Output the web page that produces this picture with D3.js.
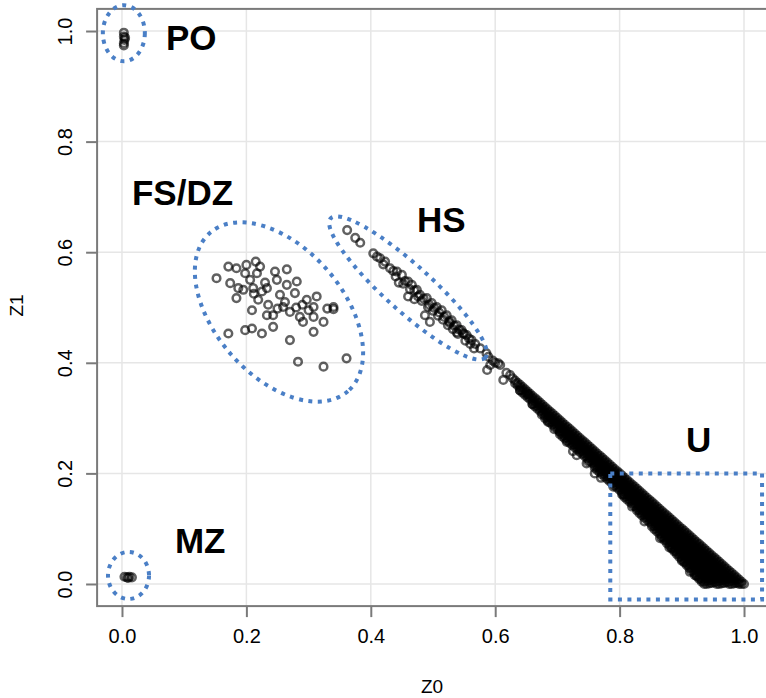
<!DOCTYPE html>
<html><head><meta charset="utf-8">
<script src="https://cdn.jsdelivr.net/npm/d3@7"></script>
<style>body{margin:0;background:#fff;} svg{display:block;}</style>
</head><body><svg id="c" width="766" height="698"></svg>
<script>
// ---------- data ----------
const xTicks = [0, 0.2, 0.4, 0.6, 0.8, 1.0];
const yTicks = [0, 0.2, 0.4, 0.6, 0.8, 1.0];
const xLabel = "Z0";
const yLabel = "Z1";

const poPoints = [[0.003,0.997],[0.003,0.990],[0.004,0.984],[0.003,0.978],[0.003,0.974],[0.005,0.988]];
const mzPoints = [[0.004,0.013],[0.008,0.012],[0.012,0.013],[0.016,0.012],[0.010,0.011]];
const fsPoints = [[0.171,0.574],[0.184,0.571],[0.200,0.577],[0.215,0.583],[0.152,0.553],[0.174,0.544],[0.198,0.562],[0.217,0.562],[0.206,0.550],[0.187,0.535],[0.195,0.532],[0.184,0.517],[0.211,0.535],[0.225,0.529],[0.233,0.535],[0.246,0.565],[0.265,0.569],[0.249,0.550],[0.281,0.547],[0.265,0.541],[0.254,0.523],[0.278,0.526],[0.297,0.514],[0.313,0.520],[0.308,0.501],[0.340,0.501],[0.219,0.514],[0.209,0.495],[0.233,0.486],[0.243,0.486],[0.259,0.501],[0.270,0.492],[0.286,0.483],[0.291,0.474],[0.308,0.483],[0.324,0.474],[0.209,0.462],[0.225,0.453],[0.243,0.465],[0.308,0.456],[0.171,0.453],[0.198,0.459],[0.270,0.441],[0.283,0.402],[0.324,0.393],[0.361,0.408],[0.235,0.505],[0.262,0.510],[0.280,0.500],[0.290,0.505],[0.300,0.495],[0.250,0.498],[0.230,0.545],[0.222,0.574],[0.212,0.525],[0.330,0.498],[0.340,0.497]];
const hsPoints = [[0.362,0.640],[0.375,0.626],[0.383,0.617],[0.404,0.598],[0.415,0.589],[0.423,0.583],[0.431,0.571],[0.442,0.565],[0.450,0.559],[0.460,0.547],[0.466,0.541],[0.474,0.532],[0.479,0.523],[0.490,0.517],[0.498,0.508],[0.506,0.501],[0.514,0.495],[0.522,0.486],[0.530,0.477],[0.538,0.468],[0.546,0.459],[0.554,0.450],[0.562,0.441],[0.568,0.434],[0.410,0.592],[0.436,0.566],[0.455,0.548],[0.470,0.531],[0.485,0.516],[0.494,0.505],[0.502,0.499],[0.510,0.491],[0.518,0.483],[0.526,0.475],[0.534,0.467],[0.542,0.460],[0.550,0.452],[0.558,0.444],[0.460,0.520],[0.487,0.486],[0.495,0.474],[0.445,0.545],[0.470,0.515],[0.527,0.472],[0.548,0.454],[0.538,0.455],[0.420,0.578],[0.440,0.556],[0.452,0.543],[0.463,0.533],[0.476,0.520],[0.482,0.512],[0.492,0.501],[0.500,0.494],[0.508,0.485],[0.516,0.478],[0.524,0.468],[0.532,0.461],[0.540,0.452],[0.552,0.440],[0.560,0.434],[0.566,0.426]];
const bridgePoints = [[0.576,0.426],[0.586,0.417],[0.589,0.411],[0.587,0.387],[0.592,0.396],[0.605,0.399],[0.608,0.396],[0.613,0.369],[0.618,0.382],[0.624,0.378],[0.628,0.372],[0.600,0.400],[0.596,0.404]];
const edgePoints = [[0.653,0.343],[0.675,0.306],[0.685,0.293],[0.704,0.275],[0.715,0.257],[0.731,0.233],[0.750,0.221],[0.760,0.200],[0.747,0.218],[0.790,0.176],[0.806,0.161],[0.820,0.140],[0.840,0.113],[0.865,0.083],[0.880,0.066],[0.900,0.042],[0.913,0.022],[0.921,0.016],[0.640,0.350],[0.660,0.325],[0.695,0.280],[0.725,0.240],[0.770,0.192]];
const bandZ0 = [0.632,0.640,0.648,0.656,0.664,0.672,0.680,0.688,0.696,0.704,0.712,0.720,0.728,0.736,0.744,0.752,0.760,0.768,0.776,0.784,0.792,0.800,0.808,0.816,0.824,0.832,0.840,0.848,0.856,0.864,0.872,0.880,0.888,0.896,0.904,0.912,0.920,0.928,0.936,0.944,0.952,0.960,0.968,0.976,0.984,0.992,1.000];
const bandZ1 = [
 [0.368,0.363],
 [0.360,0.355,0.350],
 [0.352,0.347,0.342],
 [0.344,0.339,0.334],
 [0.336,0.331,0.326,0.321],
 [0.328,0.323,0.318,0.313],
 [0.320,0.315,0.310,0.305,0.300],
 [0.312,0.307,0.302,0.297,0.292],
 [0.304,0.299,0.294,0.289,0.284],
 [0.296,0.291,0.286,0.281,0.276,0.271],
 [0.288,0.283,0.278,0.273,0.268,0.263],
 [0.280,0.275,0.270,0.265,0.260,0.255],
 [0.272,0.267,0.262,0.257,0.252,0.247],
 [0.264,0.259,0.254,0.249,0.244,0.239],
 [0.256,0.251,0.246,0.241,0.236,0.231],
 [0.248,0.243,0.238,0.233,0.228,0.223],
 [0.240,0.235,0.230,0.225,0.220,0.215,0.210],
 [0.232,0.227,0.222,0.217,0.212,0.207,0.202],
 [0.224,0.219,0.214,0.209,0.204,0.199,0.194],
 [0.216,0.211,0.206,0.201,0.196,0.191,0.186],
 [0.208,0.203,0.198,0.193,0.188,0.183,0.178],
 [0.200,0.195,0.190,0.185,0.180,0.175,0.170],
 [0.192,0.187,0.182,0.177,0.172,0.167,0.162,0.157],
 [0.184,0.179,0.174,0.169,0.164,0.159,0.154,0.149],
 [0.176,0.171,0.166,0.161,0.156,0.151,0.146,0.141],
 [0.168,0.163,0.158,0.153,0.148,0.143,0.138,0.133,0.128],
 [0.160,0.155,0.150,0.145,0.140,0.135,0.130,0.125,0.120],
 [0.152,0.147,0.142,0.137,0.132,0.127,0.122,0.117,0.112],
 [0.144,0.139,0.134,0.129,0.124,0.119,0.114,0.109,0.104,0.099],
 [0.136,0.131,0.126,0.121,0.116,0.111,0.106,0.101,0.096,0.091],
 [0.128,0.123,0.118,0.113,0.108,0.103,0.098,0.093,0.088,0.083,0.079],
 [0.120,0.115,0.110,0.105,0.100,0.095,0.090,0.085,0.080,0.075,0.070],
 [0.112,0.107,0.102,0.097,0.092,0.087,0.082,0.077,0.072,0.067,0.062,0.059],
 [0.104,0.099,0.094,0.089,0.084,0.079,0.074,0.069,0.064,0.059,0.054,0.049],
 [0.096,0.091,0.086,0.081,0.076,0.071,0.066,0.061,0.056,0.051,0.046,0.041,0.039],
 [0.088,0.083,0.078,0.073,0.068,0.063,0.058,0.053,0.048,0.043,0.038,0.033,0.029],
 [0.080,0.075,0.070,0.065,0.060,0.055,0.050,0.045,0.040,0.035,0.030,0.025,0.020],
 [0.072,0.067,0.062,0.057,0.052,0.047,0.042,0.037,0.032,0.027,0.022,0.017,0.012,0.009],
 [0.064,0.059,0.054,0.049,0.044,0.039,0.034,0.029,0.024,0.019,0.014,0.009,0.004,0.000],
 [0.056,0.051,0.046,0.041,0.036,0.031,0.026,0.021,0.016,0.011,0.006,0.001],
 [0.048,0.043,0.038,0.033,0.028,0.023,0.018,0.013,0.008,0.003],
 [0.040,0.035,0.030,0.025,0.020,0.015,0.010,0.005,0.000],
 [0.032,0.027,0.022,0.017,0.012,0.007,0.002],
 [0.024,0.019,0.014,0.009,0.004,0.000],
 [0.016,0.011,0.006,0.001],
 [0.008,0.003,0.000],
 [0.000]
];
const bandZ0b = [0.636,0.644,0.652,0.660,0.668,0.676,0.684,0.692,0.700,0.708,0.716,0.724,0.732,0.740,0.748,0.756,0.764,0.772,0.780,0.788,0.796,0.804,0.812,0.820,0.828,0.836,0.844,0.852,0.860,0.868,0.876,0.884,0.892,0.900,0.908,0.916,0.924,0.932,0.940,0.948,0.956,0.964,0.972,0.980,0.988,0.996];
const bandZ1b = [
 [0.364,0.359],
 [0.356,0.351,0.346],
 [0.348,0.343,0.338],
 [0.340,0.335,0.330,0.325],
 [0.332,0.327,0.322,0.317],
 [0.324,0.319,0.314,0.309],
 [0.316,0.311,0.306,0.301,0.296],
 [0.308,0.303,0.298,0.293,0.288],
 [0.300,0.295,0.290,0.285,0.280],
 [0.292,0.287,0.282,0.277,0.272,0.267],
 [0.284,0.279,0.274,0.269,0.264,0.259],
 [0.276,0.271,0.266,0.261,0.256,0.251],
 [0.268,0.263,0.258,0.253,0.248,0.243],
 [0.260,0.255,0.250,0.245,0.240,0.235],
 [0.252,0.247,0.242,0.237,0.232,0.227],
 [0.244,0.239,0.234,0.229,0.224,0.219],
 [0.236,0.231,0.226,0.221,0.216,0.211,0.206],
 [0.228,0.223,0.218,0.213,0.208,0.203,0.198],
 [0.220,0.215,0.210,0.205,0.200,0.195,0.190],
 [0.212,0.207,0.202,0.197,0.192,0.187,0.182],
 [0.204,0.199,0.194,0.189,0.184,0.179,0.174],
 [0.196,0.191,0.186,0.181,0.176,0.171,0.166,0.162],
 [0.188,0.183,0.178,0.173,0.168,0.163,0.158,0.153],
 [0.180,0.175,0.170,0.165,0.160,0.155,0.150,0.145],
 [0.172,0.167,0.162,0.157,0.152,0.147,0.142,0.137,0.133],
 [0.164,0.159,0.154,0.149,0.144,0.139,0.134,0.129,0.124],
 [0.156,0.151,0.146,0.141,0.136,0.131,0.126,0.121,0.116],
 [0.148,0.143,0.138,0.133,0.128,0.123,0.118,0.113,0.108,0.104],
 [0.140,0.135,0.130,0.125,0.120,0.115,0.110,0.105,0.100,0.095],
 [0.132,0.127,0.122,0.117,0.112,0.107,0.102,0.097,0.092,0.087,0.084],
 [0.124,0.119,0.114,0.109,0.104,0.099,0.094,0.089,0.084,0.079,0.074],
 [0.116,0.111,0.106,0.101,0.096,0.091,0.086,0.081,0.076,0.071,0.066,0.064],
 [0.108,0.103,0.098,0.093,0.088,0.083,0.078,0.073,0.068,0.063,0.058,0.054],
 [0.100,0.095,0.090,0.085,0.080,0.075,0.070,0.065,0.060,0.055,0.050,0.045],
 [0.092,0.087,0.082,0.077,0.072,0.067,0.062,0.057,0.052,0.047,0.042,0.037,0.034],
 [0.084,0.079,0.074,0.069,0.064,0.059,0.054,0.049,0.044,0.039,0.034,0.029,0.024],
 [0.076,0.071,0.066,0.061,0.056,0.051,0.046,0.041,0.036,0.031,0.026,0.021,0.016,0.014],
 [0.068,0.063,0.058,0.053,0.048,0.043,0.038,0.033,0.028,0.023,0.018,0.013,0.008,0.004],
 [0.060,0.055,0.050,0.045,0.040,0.035,0.030,0.025,0.020,0.015,0.010,0.005,0.000],
 [0.052,0.047,0.042,0.037,0.032,0.027,0.022,0.017,0.012,0.007,0.002],
 [0.044,0.039,0.034,0.029,0.024,0.019,0.014,0.009,0.004,0.000],
 [0.036,0.031,0.026,0.021,0.016,0.011,0.006,0.001],
 [0.028,0.023,0.018,0.013,0.008,0.003],
 [0.020,0.015,0.010,0.005,0.000],
 [0.012,0.007,0.002],
 [0.004,0.000]
];
const clusterLabels = ["PO", "FS/DZ", "HS", "U", "MZ"];

// ---------- layout ----------
const svg = d3.select("#c");
const x = d3.scaleLinear().domain([-0.04, 1.04]).range([97.1, 768.9]);
const y = d3.scaleLinear().domain([-0.04, 1.04]).range([606.1, 8.9]);
const font = "'Liberation Sans', Arial, Helvetica, sans-serif";

// grid
const grid = svg.append("g");
grid.selectAll("line.vx").data(xTicks).join("line")
  .attr("x1", d => x(d)).attr("x2", d => x(d))
  .attr("y1", y(1.04)).attr("y2", y(-0.04))
  .attr("stroke", "#e6e6e6").attr("stroke-width", 1.5);
grid.selectAll("line.hy").data(yTicks).join("line")
  .attr("y1", d => y(d)).attr("y2", d => y(d))
  .attr("x1", x(-0.04)).attr("x2", x(1.04))
  .attr("stroke", "#e6e6e6").attr("stroke-width", 1.5);

// points
const allPoints = [].concat(poPoints, mzPoints, fsPoints, hsPoints, bridgePoints, edgePoints);
bandZ0.forEach((z0, i) => bandZ1[i].forEach(z1 => allPoints.push([z0, z1])));
bandZ0b.forEach((z0, i) => bandZ1b[i].forEach(z1 => allPoints.push([z0, z1])));
svg.append("g").selectAll("circle").data(allPoints).join("circle")
  .attr("cx", d => x(d[0])).attr("cy", d => y(d[1])).attr("r", 3.8)
  .attr("fill", "none").attr("stroke", "#000").attr("stroke-opacity", 0.62)
  .attr("stroke-width", 2.5);

// frame
svg.append("rect")
  .attr("x", x(-0.04)).attr("y", y(1.04))
  .attr("width", x(1.04) - x(-0.04)).attr("height", y(-0.04) - y(1.04))
  .attr("fill", "none").attr("stroke", "#7a7a7a").attr("stroke-width", 2);

// axes
const xAxis = svg.append("g").attr("transform", `translate(0,${y(-0.04)})`)
  .call(d3.axisBottom(x).tickValues(xTicks).tickSize(11).tickPadding(12).tickFormat(d3.format(".1f")));
xAxis.select(".domain").remove();
xAxis.selectAll(".tick line").attr("stroke", "#7a7a7a").attr("stroke-width", 2);
xAxis.selectAll(".tick text").attr("font-family", font).attr("font-size", 20).attr("fill", "#000");

const yAxis = svg.append("g").attr("transform", `translate(${x(-0.04)},0)`)
  .call(d3.axisLeft(y).tickValues(yTicks).tickSize(11).tickFormat(d3.format(".1f")));
yAxis.select(".domain").remove();
yAxis.selectAll(".tick line").attr("stroke", "#7a7a7a").attr("stroke-width", 2);
yAxis.selectAll(".tick text")
  .attr("x", 0).attr("dy", 0).attr("text-anchor", "middle")
  .attr("transform", "translate(-25,0) rotate(-90)")
  .attr("font-family", font).attr("font-size", 20).attr("fill", "#000");

svg.append("text").attr("x", (x(-0.04) + x(1.04)) / 2 - 1).attr("y", 693)
  .attr("text-anchor", "middle").attr("font-family", font).attr("font-size", 19).text(xLabel);
svg.append("text").attr("transform", `translate(23,${(y(-0.04) + y(1.04)) / 2 - 2}) rotate(-90)`)
  .attr("text-anchor", "middle").attr("font-family", font).attr("font-size", 19).text(yLabel);

// annotations (dotted blue outlines)
const blue = "#4a7fc6";
const ellipses = [
  {c: [0.003, 0.996], rx: 21, ry: 28, rot: 0},
  {c: [0.2524, 0.4919], rx: 105, ry: 64, rot: 49},
  {c: [0.4598, 0.5353], rx: 104, ry: 23, rot: 42},
  {c: [0.0105, 0.0154], rx: 20.5, ry: 23.5, rot: 0}
];
const ann = svg.append("g");
ann.selectAll("ellipse").data(ellipses).join("ellipse")
  .attr("transform", d => `translate(${x(d.c[0])},${y(d.c[1])}) rotate(${d.rot})`)
  .attr("rx", d => d.rx).attr("ry", d => d.ry)
  .attr("fill", "none").attr("stroke", blue).attr("stroke-width", 4)
  .attr("stroke-dasharray", "4 5.5");
ann.append("rect")
  .attr("x", x(0.785)).attr("y", y(0.200))
  .attr("width", x(1.029) - x(0.785)).attr("height", y(-0.028) - y(0.200))
  .attr("fill", "none").attr("stroke", blue).attr("stroke-width", 4)
  .attr("stroke-dasharray", "4 5.5");

const labelPos = [[0.0707, 0.9656], [0.0161, 0.6854], [0.4743, 0.6365], [0.9068, 0.2387], [0.0852, 0.0561]];
svg.append("g").selectAll("text").data(clusterLabels).join("text")
  .attr("x", (d, i) => x(labelPos[i][0])).attr("y", (d, i) => y(labelPos[i][1]))
  .attr("font-family", font).attr("font-weight", "bold").attr("font-size", 35)
  .attr("fill", "#000").text(d => d);
</script>
</body></html>
